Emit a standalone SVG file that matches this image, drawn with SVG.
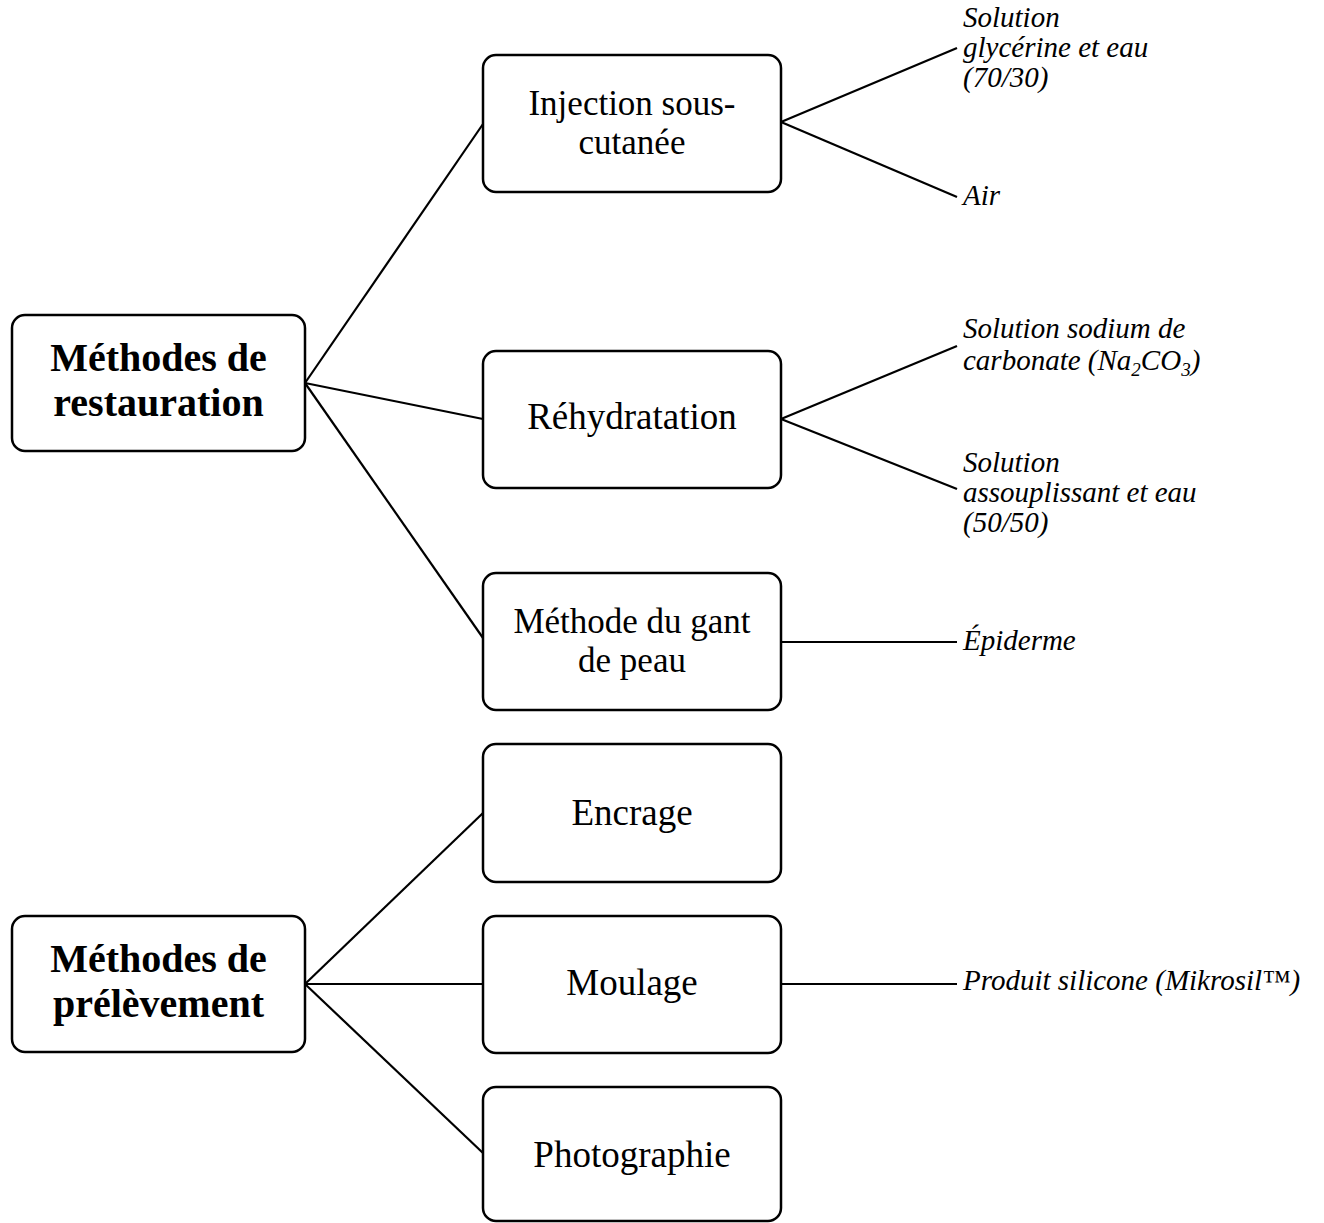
<svg xmlns="http://www.w3.org/2000/svg" width="1324" height="1223" viewBox="0 0 1324 1223">
<style>
.box{fill:#fff;stroke:#000;stroke-width:2.5}
.root{font-family:"Liberation Serif","Times New Roman",serif;font-weight:bold;font-size:40px;text-anchor:middle;fill:#000}
.mid{font-family:"Liberation Serif","Times New Roman",serif;font-size:35px;text-anchor:middle;fill:#000}
.mid1{font-family:"Liberation Serif","Times New Roman",serif;font-size:37px;text-anchor:middle;fill:#000}
.leaf{font-family:"Liberation Serif","Times New Roman",serif;font-style:italic;font-size:29px;fill:#000}
.conn line{stroke:#000;stroke-width:2.2}
</style>
<rect width="1324" height="1223" fill="#fff"/>
<g id="connectors" class="conn">
<line x1="305" y1="383" x2="483" y2="124"/>
<line x1="305" y1="383" x2="483" y2="419"/>
<line x1="305" y1="383" x2="483" y2="638"/>
<line x1="305" y1="984" x2="483" y2="813"/>
<line x1="305" y1="984" x2="483" y2="984"/>
<line x1="305" y1="984" x2="483" y2="1153"/>
<line x1="781" y1="122" x2="957" y2="48"/>
<line x1="781" y1="122" x2="957" y2="197"/>
<line x1="781" y1="419" x2="957" y2="346"/>
<line x1="781" y1="419" x2="957" y2="489"/>
<line x1="781" y1="642" x2="957" y2="642"/>
<line x1="781" y1="984" x2="957" y2="984"/>
</g>
<g id="root-restauration">
<rect class="box" x="12" y="315" width="293" height="136" rx="13"/>
<text class="root" x="158.5" y="371">Méthodes de</text>
<text class="root" x="158.5" y="416">restauration</text>
</g>
<g id="root-prelevement">
<rect class="box" x="12" y="916" width="293" height="136" rx="13"/>
<text class="root" x="158.5" y="972">Méthodes de</text>
<text class="root" x="158.5" y="1017">prélèvement</text>
</g>
<g id="injection">
<rect class="box" x="483" y="55" width="298" height="137" rx="13"/>
<text class="mid" x="632" y="115">Injection sous-</text>
<text class="mid" x="632" y="154">cutanée</text>
</g>
<g id="rehydratation">
<rect class="box" x="483" y="351" width="298" height="137" rx="13"/>
<text class="mid1" x="632" y="429">Réhydratation</text>
</g>
<g id="gant">
<rect class="box" x="483" y="573" width="298" height="137" rx="13"/>
<text class="mid" x="632" y="633">Méthode du gant</text>
<text class="mid" x="632" y="672">de peau</text>
</g>
<g id="encrage">
<rect class="box" x="483" y="744" width="298" height="138" rx="13"/>
<text class="mid1" x="632" y="825">Encrage</text>
</g>
<g id="moulage">
<rect class="box" x="483" y="916" width="298" height="137" rx="13"/>
<text class="mid1" x="632" y="995">Moulage</text>
</g>
<g id="photographie">
<rect class="box" x="483" y="1087" width="298" height="134" rx="13"/>
<text class="mid1" x="632" y="1167">Photographie</text>
</g>
<g id="leaf-glycerine">
<text class="leaf" x="963" y="27">Solution</text>
<text class="leaf" x="963" y="57">glycérine et eau</text>
<text class="leaf" x="963" y="87">(70/30)</text>
</g>
<g id="leaf-air">
<text class="leaf" x="963" y="205">Air</text>
</g>
<g id="leaf-sodium">
<text class="leaf" x="963" y="338">Solution sodium de</text>
<text class="leaf" x="963" y="370">carbonate (Na<tspan font-size="19" dy="6">2</tspan><tspan dy="-6">CO</tspan><tspan font-size="19" dy="6">3</tspan><tspan dy="-6">)</tspan></text>
</g>
<g id="leaf-assouplissant">
<text class="leaf" x="963" y="472">Solution</text>
<text class="leaf" x="963" y="502">assouplissant et eau</text>
<text class="leaf" x="963" y="532">(50/50)</text>
</g>
<g id="leaf-epiderme">
<text class="leaf" x="963" y="650">Épiderme</text>
</g>
<g id="leaf-silicone">
<text class="leaf" x="963" y="990">Produit silicone (Mikrosil™)</text>
</g>
</svg>
